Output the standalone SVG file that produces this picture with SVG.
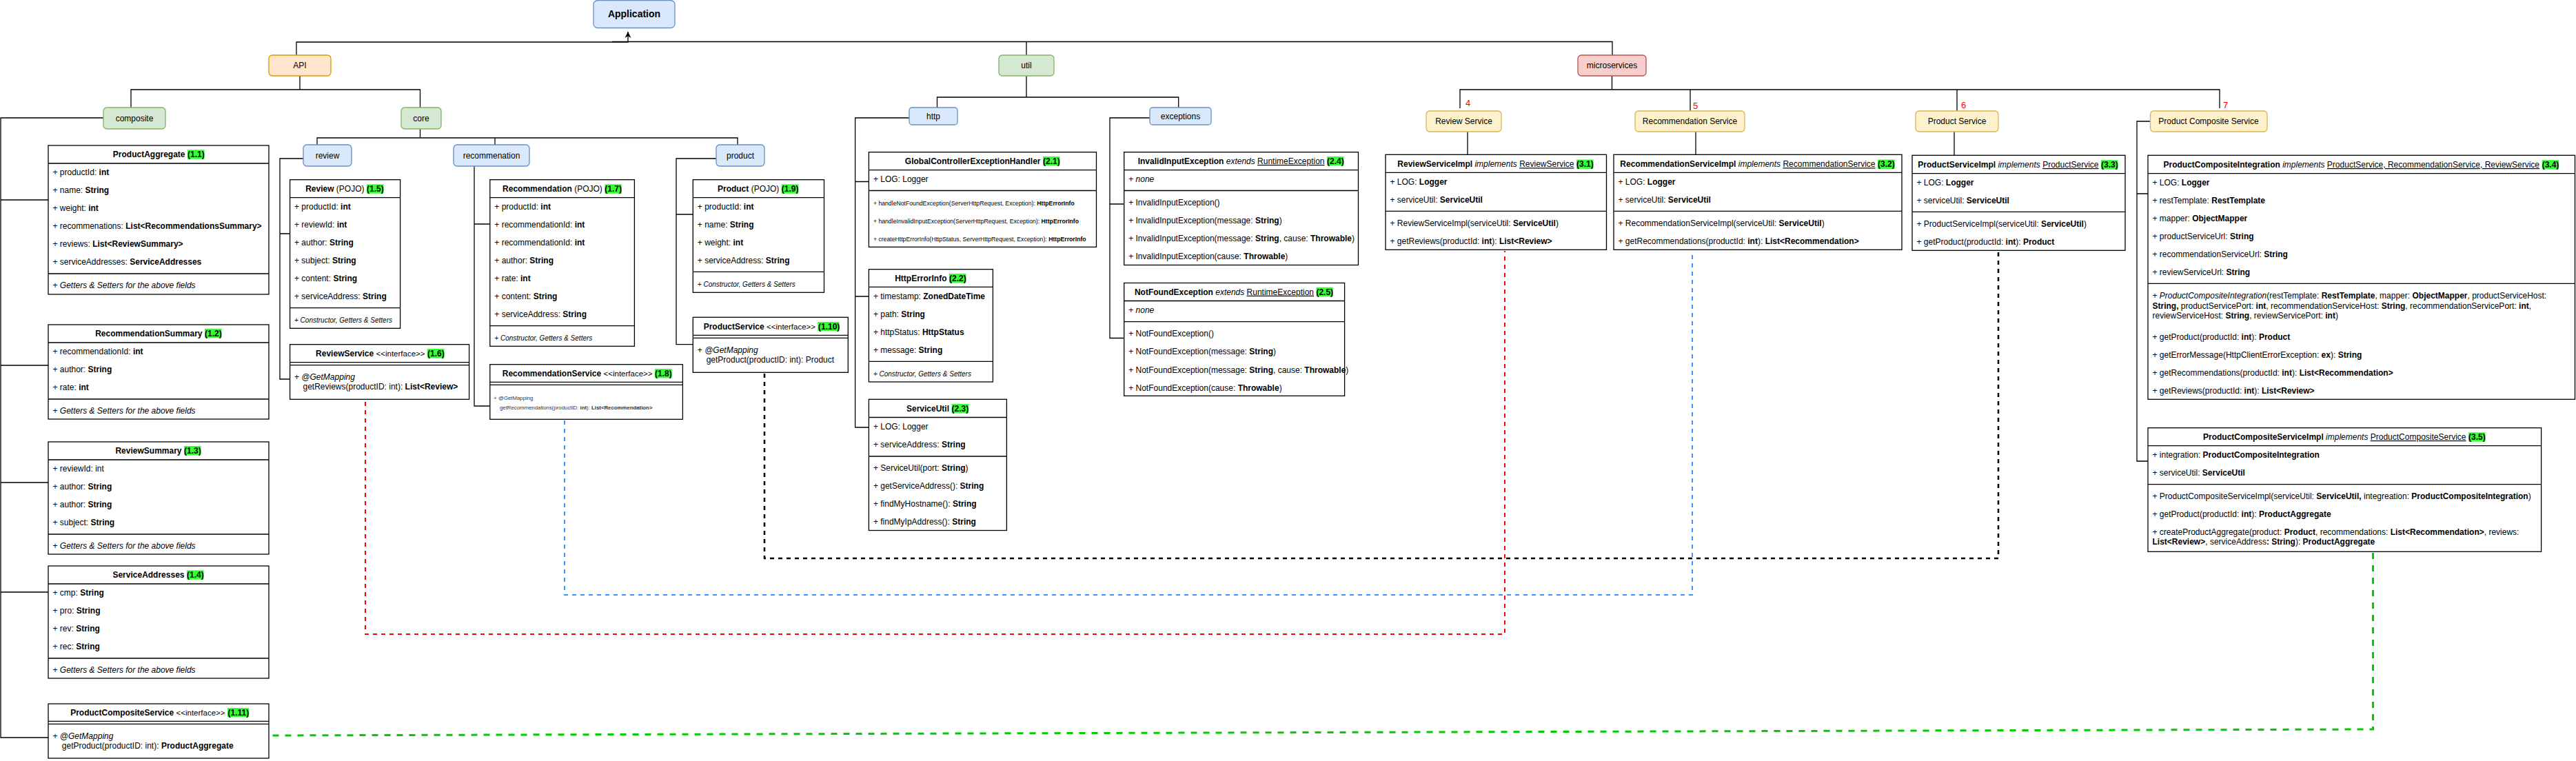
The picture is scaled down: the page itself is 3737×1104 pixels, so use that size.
<svg xmlns="http://www.w3.org/2000/svg" width="3737" height="1104" viewBox="0 0 3737 1104">
<defs>
<style>
text{font-family:"Liberation Sans",Arial,Helvetica,sans-serif;font-size:12px;fill:#000}
.box{fill:#fff;stroke:#000;stroke-width:1.3}
.ln{fill:none;stroke:#000;stroke-width:1.3}
.b{font-weight:bold}
.i{font-style:italic}
.u{text-decoration:underline}
.hl{fill:#33ff33}
.sm{font-size:10px;font-style:italic}
.xs{font-size:8.7px}
.xxs{font-size:7.8px;fill:#333}
.if{font-size:11.5px;font-weight:normal}
.blue{fill:#dae8fc;stroke:#6c8ebf;stroke-width:1.3}
.green{fill:#d5e8d4;stroke:#82b366;stroke-width:1.3}
.orange{fill:#ffe6cc;stroke:#d79b00;stroke-width:1.3}
.red{fill:#f8cecc;stroke:#b85450;stroke-width:1.3}
.yellow{fill:#fff2cc;stroke:#d6b656;stroke-width:1.3}
.c{fill:none;stroke:#000;stroke-width:1.3}
.num{fill:#ff0000;font-size:13px}
.ctr{text-anchor:middle}
.end{text-anchor:end}
</style>
<marker id="arr" viewBox="0 0 10 10" refX="10" refY="5" markerWidth="9" markerHeight="9" orient="auto" markerUnits="userSpaceOnUse">
<path d="M0,0 L10,5 L0,10 L3,5 Z" fill="#000"/>
</marker>
</defs>
<rect width="3737" height="1104" fill="#fff"/>

<g id="connectors">
<path class="c" d="M430,80 V61 H911 V46" marker-end="url(#arr)"/>
<path class="c" d="M888,60.5 H2339 V80"/>
<path class="c" d="M1489,60.5 V80"/>
<path class="c" d="M435,110 V130"/>
<path class="c" d="M190,156 V130 H609.5 V156"/>
<path class="c" d="M150,171 H1 V1070 H70 M1,290 H70 M1,530 H70 M1,700 H70 M1,859 H70"/>
<path class="c" d="M609.5,187 V200"/>
<path class="c" d="M460,210 V200 H1070 V210 M718,200 V210"/>
<path class="c" d="M440,230 H406 V550 H420.6 M406,339 H420.6"/>
<path class="c" d="M688,241 V589 H710.8 M688,325 H710.8"/>
<path class="c" d="M1039,230 H981 V499.7 H1005.3 M981,311 H1005.3"/>
<path class="c" d="M1489,110 V141 M1359.5,156 V141 H1709.7 V156"/>
<path class="c" d="M1319,171 H1240.6 V620 H1260.4 M1240.6,263.5 H1260.4 M1240.6,430 H1260.4"/>
<path class="c" d="M1668,171 H1610 V490.5 H1630.7 M1610,296 H1630.7"/>
<path class="c" d="M2338.5,110 V130 M2118,157 V130 H3220 V157 M2452,130 V161 M2839,130 V161"/>
<path class="c" d="M2129,191 V224.3 M2460,191 V224.3 M2835,191 V225.3"/>
<path class="c" d="M3119.5,176 H3100 V669 H3116 M3100,281 H3116"/>
<path d="M530,583 V920 H2183 V364" fill="none" stroke="#ff0000" stroke-width="2" stroke-dasharray="6 6"/>
<path d="M819,610 V863 H2455 V364" fill="none" stroke="#3399ff" stroke-width="2" stroke-dasharray="6 6"/>
<path d="M1109,542 V810 H2899 V365" fill="none" stroke="#000" stroke-width="2.5" stroke-dasharray="6 6"/>
<path d="M3442.5,802 V1058 L392,1067" fill="none" stroke="#00cc00" stroke-width="3" stroke-dasharray="9 9"/>
</g>

<g id="Application"><rect class="blue" x="861" y="0.5" width="118" height="40" rx="6"/><text class="b ctr" x="920" y="25" style="font-size:14px">Application</text></g>
<g id="API"><rect class="orange" x="390" y="80" width="90" height="30" rx="5"/><text class="ctr" x="435" y="99">API</text></g>
<g id="util"><rect class="green" x="1449" y="80" width="80" height="30" rx="5"/><text class="ctr" x="1489" y="99">util</text></g>
<g id="microservices"><rect class="red" x="2289" y="80" width="99" height="30" rx="5"/><text class="ctr" x="2338.5" y="99">microservices</text></g>
<g id="composite"><rect class="green" x="150" y="156" width="90" height="31" rx="5"/><text class="ctr" x="195" y="176">composite</text></g>
<g id="core"><rect class="green" x="582" y="156" width="58" height="31" rx="5"/><text class="ctr" x="611" y="176">core</text></g>
<g id="review"><rect class="blue" x="440" y="210" width="70" height="31" rx="5"/><text class="ctr" x="475" y="230">review</text></g>
<g id="recommenation"><rect class="blue" x="658" y="210" width="110" height="31" rx="5"/><text class="ctr" x="713" y="230">recommenation</text></g>
<g id="product"><rect class="blue" x="1039" y="210" width="70" height="31" rx="5"/><text class="ctr" x="1074" y="230">product</text></g>
<g id="http"><rect class="blue" x="1319" y="156" width="70" height="25" rx="4"/><text class="ctr" x="1354" y="172.5">http</text></g>
<g id="exceptions"><rect class="blue" x="1668" y="156" width="89" height="25" rx="4"/><text class="ctr" x="1712.5" y="172.5">exceptions</text></g>
<g id="ReviewServiceNode"><rect class="yellow" x="2069" y="161" width="109" height="30" rx="5"/><text class="ctr" x="2123.5" y="180">Review Service</text><text class="num" x="2126" y="154">4</text></g>
<g id="RecommendationServiceNode"><rect class="yellow" x="2372" y="161" width="159" height="30" rx="5"/><text class="ctr" x="2451.5" y="180">Recommendation Service</text><text class="num" x="2456" y="158">5</text></g>
<g id="ProductServiceNode"><rect class="yellow" x="2779" y="161" width="120" height="30" rx="5"/><text class="ctr" x="2839" y="180">Product Service</text><text class="num" x="2845" y="157">6</text></g>
<g id="ProductCompositeServiceNode"><rect class="yellow" x="3119.5" y="161" width="169.5" height="30" rx="5"/><text class="ctr" x="3204" y="180">Product Composite Service</text><text class="num" x="3225" y="157">7</text></g>

<g id="ProductAggregate">
<rect class="box" x="70" y="211" width="320" height="216"/>
<path class="ln" d="M70,237H390M70,397H390"/>
<text class="b end" x="268.5" y="228.3">ProductAggregate</text>
<rect class="hl" x="272" y="217.3" width="24.5" height="13.4"/><text class="b" x="272" y="228.3">(1.1)</text>
<text x="76.5" y="254.2">+ productId: <tspan class="b">int</tspan></text>
<text x="76.5" y="280.2">+ name: <tspan class="b">String</tspan></text>
<text x="76.5" y="306.2">+ weight: <tspan class="b">int</tspan></text>
<text x="76.5" y="332.2">+ recommenations: <tspan class="b">List&lt;RecommendationsSummary&gt;</tspan></text>
<text x="76.5" y="358.2">+ reviews: <tspan class="b">List&lt;ReviewSummary&gt;</tspan></text>
<text x="76.5" y="384.2">+ serviceAddresses: <tspan class="b">ServiceAddresses</tspan></text>
<text x="76.5" y="418">+ <tspan class="i">Getters &amp; Setters for the above fields</tspan></text>
</g>

<g id="RecommendationSummary">
<rect class="box" x="70" y="471" width="320" height="137"/>
<path class="ln" d="M70,497H390M70,579H390"/>
<text class="b end" x="293.5" y="487.8">RecommendationSummary</text>
<rect class="hl" x="297" y="476.8" width="24.5" height="13.4"/><text class="b" x="297" y="487.8">(1.2)</text>
<text x="76.5" y="514.2">+ recommendationId: <tspan class="b">int</tspan></text>
<text x="76.5" y="540.2">+ author: <tspan class="b">String</tspan></text>
<text x="76.5" y="566.2">+ rate: <tspan class="b">int</tspan></text>
<text x="76.5" y="600.2">+ <tspan class="i">Getters &amp; Setters for the above fields</tspan></text>
</g>

<g id="ReviewSummary">
<rect class="box" x="70" y="641" width="320" height="163"/>
<path class="ln" d="M70,667H390M70,775H390"/>
<text class="b end" x="263.5" y="658">ReviewSummary</text>
<rect class="hl" x="267" y="647" width="24.5" height="13.4"/><text class="b" x="267" y="658">(1.3)</text>
<text x="76.5" y="684.2">+ reviewId: int</text>
<text x="76.5" y="710.2">+ author: <tspan class="b">String</tspan></text>
<text x="76.5" y="736.2">+ author: <tspan class="b">String</tspan></text>
<text x="76.5" y="762.2">+ subject: <tspan class="b">String</tspan></text>
<text x="76.5" y="796.2">+ <tspan class="i">Getters &amp; Setters for the above fields</tspan></text>
</g>

<g id="ServiceAddresses">
<rect class="box" x="70" y="821" width="320" height="163"/>
<path class="ln" d="M70,847H390M70,955H390"/>
<text class="b end" x="267.5" y="838">ServiceAddresses</text>
<rect class="hl" x="271" y="827.3" width="24.5" height="13.4"/><text class="b" x="271" y="838">(1.4)</text>
<text x="76.5" y="864.2">+ cmp: <tspan class="b">String</tspan></text>
<text x="76.5" y="890.2">+ pro: <tspan class="b">String</tspan></text>
<text x="76.5" y="916.2">+ rev: <tspan class="b">String</tspan></text>
<text x="76.5" y="942.2">+ rec: <tspan class="b">String</tspan></text>
<text x="76.5" y="976.2">+ <tspan class="i">Getters &amp; Setters for the above fields</tspan></text>
</g>

<g id="ProductCompositeService">
<rect class="box" x="70" y="1021" width="320" height="79"/>
<path class="ln" d="M70,1046.3H390M70,1050.3H390"/>
<text class="end" x="326.5" y="1037.8"><tspan class="b">ProductCompositeService</tspan> <tspan class="if">&lt;&lt;interface&gt;&gt;</tspan></text>
<rect class="hl" x="330" y="1027" width="31" height="13.4"/><text class="b" x="330.5" y="1037.8">(1.11)</text>
<text x="76.5" y="1072">+ <tspan class="i">@GetMapping</tspan></text>
<text x="89.8" y="1086">getProduct(productID: int): <tspan class="b">ProductAggregate</tspan></text>
</g>

<g id="Review">
<rect class="box" x="420.6" y="260.7" width="160" height="215.6"/>
<path class="ln" d="M420.6,286.7H580.6M420.6,446.7H580.6"/>
<text class="end" x="528.5" y="278"><tspan class="b">Review</tspan> (POJO)</text>
<rect class="hl" x="532" y="267.3" width="24.5" height="13.4"/><text class="b" x="532" y="278">(1.5)</text>
<text x="427" y="304">+ productId: <tspan class="b">int</tspan></text>
<text x="427" y="330">+ reviewId: <tspan class="b">int</tspan></text>
<text x="427" y="356">+ author: <tspan class="b">String</tspan></text>
<text x="427" y="382">+ subject: <tspan class="b">String</tspan></text>
<text x="427" y="408">+ content: <tspan class="b">String</tspan></text>
<text x="427" y="434">+ serviceAddress: <tspan class="b">String</tspan></text>
<text class="sm" x="427" y="468.2">+ Constructor, Getters &amp; Setters</text>
</g>

<g id="ReviewService">
<rect class="box" x="420.6" y="499.7" width="260" height="79.6"/>
<path class="ln" d="M420.6,525.7H680.6M420.6,529.7H680.6"/>
<text class="end" x="616.5" y="517"><tspan class="b">ReviewService</tspan> <tspan class="if">&lt;&lt;interface&gt;&gt;</tspan></text>
<rect class="hl" x="620" y="506" width="24.5" height="13.4"/><text class="b" x="620" y="517">(1.6)</text>
<text x="427" y="551">+ <tspan class="i">@GetMapping</tspan></text>
<text x="439.5" y="565">getReviews(productID: int): <tspan class="b">List&lt;Review&gt;</tspan></text>
</g>

<g id="Recommendation">
<rect class="box" x="710.8" y="260.7" width="209.6" height="241.6"/>
<path class="ln" d="M710.8,286.7H920.4M710.8,472.7H920.4"/>
<text class="end" x="873.8" y="278"><tspan class="b">Recommendation</tspan> (POJO)</text>
<rect class="hl" x="877.3" y="267.3" width="24.5" height="13.4"/><text class="b" x="877.3" y="278">(1.7)</text>
<text x="717.3" y="304">+ productId: <tspan class="b">int</tspan></text>
<text x="717.3" y="330">+ recommendationId: <tspan class="b">int</tspan></text>
<text x="717.3" y="356">+ recommendationId: <tspan class="b">int</tspan></text>
<text x="717.3" y="382">+ author: <tspan class="b">String</tspan></text>
<text x="717.3" y="408">+ rate: <tspan class="b">int</tspan></text>
<text x="717.3" y="434">+ content: <tspan class="b">String</tspan></text>
<text x="717.3" y="460">+ serviceAddress: <tspan class="b">String</tspan></text>
<text class="sm" x="717.3" y="494.2">+ Constructor, Getters &amp; Setters</text>
</g>

<g id="RecommendationService">
<rect class="box" x="710.8" y="528.7" width="279.6" height="79.6"/>
<path class="ln" d="M710.8,554.3H990.4M710.8,558.3H990.4"/>
<text class="end" x="946.5" y="546"><tspan class="b">RecommendationService</tspan> <tspan class="if">&lt;&lt;interface&gt;&gt;</tspan></text>
<rect class="hl" x="950" y="535" width="24.5" height="13.4"/><text class="b" x="950" y="546">(1.8)</text>
<text class="xxs" x="716.3" y="580">+ @GetMapping</text>
<text class="xxs" x="725" y="593.8">getRecommendations(productID: <tspan class="b">int</tspan>): <tspan class="b">List&lt;Recommendation&gt;</tspan></text>
</g>

<g id="Product">
<rect class="box" x="1005.3" y="260.7" width="190.2" height="163.6"/>
<path class="ln" d="M1005.3,286.7H1195.5M1005.3,394.3H1195.5"/>
<text class="end" x="1130.3" y="278"><tspan class="b">Product</tspan> (POJO)</text>
<rect class="hl" x="1133.8" y="267.3" width="24.5" height="13.4"/><text class="b" x="1133.8" y="278">(1.9)</text>
<text x="1011.8" y="304">+ productId: <tspan class="b">int</tspan></text>
<text x="1011.8" y="330">+ name: <tspan class="b">String</tspan></text>
<text x="1011.8" y="356">+ weight: <tspan class="b">int</tspan></text>
<text x="1011.8" y="382">+ serviceAddress: <tspan class="b">String</tspan></text>
<text class="sm" x="1011.8" y="416.2">+ Constructor, Getters &amp; Setters</text>
</g>

<g id="ProductService">
<rect class="box" x="1005.3" y="460.3" width="225" height="80"/>
<path class="ln" d="M1005.3,486.3H1230.3M1005.3,490.3H1230.3"/>
<text class="end" x="1183" y="477.6"><tspan class="b">ProductService</tspan> <tspan class="if">&lt;&lt;interface&gt;&gt;</tspan></text>
<rect class="hl" x="1186.4" y="467" width="31.2" height="13.4"/><text class="b" x="1187" y="477.6">(1.10)</text>
<text x="1011.8" y="512">+ <tspan class="i">@GetMapping</tspan></text>
<text x="1024.7" y="526">getProduct(productID: int): Product</text>
</g>

<g id="GlobalControllerExceptionHandler">
<rect class="box" x="1260.4" y="220.7" width="330.1" height="137.7"/>
<path class="ln" d="M1260.4,246.7H1590.5M1260.4,276.5H1590.5"/>
<text class="b end" x="1509.5" y="238">GlobalControllerExceptionHandler</text>
<rect class="hl" x="1513" y="227" width="24.5" height="13.4"/><text class="b" x="1513" y="238">(2.1)</text>
<text x="1266.9" y="264">+ LOG: Logger</text>
<text class="xs" x="1266.9" y="298">+ handleNotFoundException(ServerHttpRequest, Exception): <tspan class="b">HttpErrorInfo</tspan></text>
<text class="xs" x="1266.9" y="324">+ handleInvalidInputException(ServerHttpRequest, Exception): <tspan class="b">HttpErrorInfo</tspan></text>
<text class="xs" x="1266.9" y="350">+ createHttpErrorInfo(HttpStatus, ServerHttpRequest, Exception): <tspan class="b">HttpErrorInfo</tspan></text>
</g>

<g id="HttpErrorInfo">
<rect class="box" x="1260.4" y="390.7" width="180" height="163.3"/>
<path class="ln" d="M1260.4,416.3H1440.4M1260.4,524.3H1440.4"/>
<text class="b end" x="1373.5" y="407.8">HttpErrorInfo</text>
<rect class="hl" x="1377" y="397" width="24.5" height="13.4"/><text class="b" x="1377" y="407.8">(2.2)</text>
<text x="1266.9" y="434">+ timestamp: <tspan class="b">ZonedDateTime</tspan></text>
<text x="1266.9" y="460">+ path: <tspan class="b">String</tspan></text>
<text x="1266.9" y="486">+ httpStatus: <tspan class="b">HttpStatus</tspan></text>
<text x="1266.9" y="512">+ message: <tspan class="b">String</tspan></text>
<text class="sm" x="1266.9" y="546.2">+ Constructor, Getters &amp; Setters</text>
</g>

<g id="ServiceUtil">
<rect class="box" x="1260.4" y="579.3" width="200" height="190.2"/>
<path class="ln" d="M1260.4,605.5H1460.4M1260.4,662H1460.4"/>
<text class="b end" x="1377" y="596.7">ServiceUtil</text>
<rect class="hl" x="1380.6" y="586" width="24.5" height="13.4"/><text class="b" x="1380.6" y="596.7">(2.3)</text>
<text x="1266.9" y="623">+ LOG: Logger</text>
<text x="1266.9" y="649">+ serviceAddress: <tspan class="b">String</tspan></text>
<text x="1266.9" y="683">+ ServiceUtil(port: <tspan class="b">String</tspan>)</text>
<text x="1266.9" y="709">+ getServiceAddress(): <tspan class="b">String</tspan></text>
<text x="1266.9" y="735">+ findMyHostname(): <tspan class="b">String</tspan></text>
<text x="1266.9" y="761">+ findMyIpAddress(): <tspan class="b">String</tspan></text>
</g>

<g id="InvalidInputException">
<rect class="box" x="1630.7" y="220.7" width="339.8" height="163.8"/>
<path class="ln" d="M1630.7,246.7H1970.5M1630.7,276.5H1970.5"/>
<text class="end" x="1921.5" y="238"><tspan class="b">InvalidInputException</tspan> <tspan class="i">extends</tspan> <tspan class="u">RuntimeException</tspan></text>
<rect class="hl" x="1925" y="227" width="24.5" height="13.4"/><text class="b" x="1925" y="238">(2.4)</text>
<text x="1637.2" y="264">+ <tspan class="i">none</tspan></text>
<text x="1637.2" y="298">+ InvalidInputException()</text>
<text x="1637.2" y="324">+ InvalidInputException(message: <tspan class="b">String</tspan>)</text>
<text x="1637.2" y="350.4">+ InvalidInputException(message: <tspan class="b">String</tspan>, cause: <tspan class="b">Throwable</tspan>)</text>
<text x="1637.2" y="376.4">+ InvalidInputException(cause: <tspan class="b">Throwable</tspan>)</text>
</g>

<g id="NotFoundException">
<rect class="box" x="1630.7" y="410.5" width="319.9" height="163.8"/>
<path class="ln" d="M1630.7,436.5H1950.6M1630.7,466.7H1950.6"/>
<text class="end" x="1906" y="427.8"><tspan class="b">NotFoundException</tspan> <tspan class="i">extends</tspan> <tspan class="u">RuntimeException</tspan></text>
<rect class="hl" x="1909.4" y="416.8" width="24.5" height="13.4"/><text class="b" x="1909.4" y="427.8">(2.5)</text>
<text x="1637.2" y="454.2">+ <tspan class="i">none</tspan></text>
<text x="1637.2" y="488.3">+ NotFoundException()</text>
<text x="1637.2" y="514.3">+ NotFoundException(message: <tspan class="b">String</tspan>)</text>
<text x="1637.2" y="540.7">+ NotFoundException(message: <tspan class="b">String</tspan>, cause: <tspan class="b">Throwable</tspan>)</text>
<text x="1637.2" y="566.7">+ NotFoundException(cause: <tspan class="b">Throwable</tspan>)</text>
</g>

<g id="ReviewServiceImpl">
<rect class="box" x="2010" y="224.3" width="320.5" height="138"/>
<path class="ln" d="M2010,250.3H2330.5M2010,306.3H2330.5"/>
<text class="end" x="2283.5" y="242.3"><tspan class="b">ReviewServiceImpl</tspan> <tspan class="i">implements</tspan> <tspan class="u">ReviewService</tspan></text>
<rect class="hl" x="2287" y="231.5" width="24.5" height="13.4"/><text class="b" x="2287" y="242.3">(3.1)</text>
<text x="2016.5" y="268.2">+ LOG: <tspan class="b">Logger</tspan></text>
<text x="2016.5" y="294.2">+ serviceUtil: <tspan class="b">ServiceUtil</tspan></text>
<text x="2016.5" y="327.5">+ ReviewServiceImpl(serviceUtil: <tspan class="b">ServiceUtil</tspan>)</text>
<text x="2016.5" y="354.2">+ getReviews(productId: <tspan class="b">int</tspan>): <tspan class="b">List&lt;Review&gt;</tspan></text>
</g>

<g id="RecommendationServiceImpl">
<rect class="box" x="2341" y="224.3" width="418" height="138"/>
<path class="ln" d="M2341,250.3H2759M2341,306.3H2759"/>
<text class="end" x="2720.5" y="242.3"><tspan class="b">RecommendationServiceImpl</tspan> <tspan class="i">implements</tspan> <tspan class="u">RecommendationService</tspan></text>
<rect class="hl" x="2724" y="231.5" width="24.5" height="13.4"/><text class="b" x="2724" y="242.3">(3.2)</text>
<text x="2347.5" y="268.2">+ LOG: <tspan class="b">Logger</tspan></text>
<text x="2347.5" y="294.2">+ serviceUtil: <tspan class="b">ServiceUtil</tspan></text>
<text x="2347.5" y="327.5">+ RecommendationServiceImpl(serviceUtil: <tspan class="b">ServiceUtil</tspan>)</text>
<text x="2347.5" y="354.2">+ getRecommendations(productId: <tspan class="b">int</tspan>): <tspan class="b">List&lt;Recommendation&gt;</tspan></text>
</g>

<g id="ProductServiceImpl">
<rect class="box" x="2774" y="225.3" width="309" height="138"/>
<path class="ln" d="M2774,251.7H3083M2774,307.3H3083"/>
<text class="end" x="3044.5" y="243"><tspan class="b">ProductServiceImpl</tspan> <tspan class="i">implements</tspan> <tspan class="u">ProductService</tspan></text>
<rect class="hl" x="3048" y="232.2" width="24.5" height="13.4"/><text class="b" x="3048" y="243">(3.3)</text>
<text x="2780.5" y="269.2">+ LOG: <tspan class="b">Logger</tspan></text>
<text x="2780.5" y="295.2">+ serviceUtil: <tspan class="b">ServiceUtil</tspan></text>
<text x="2780.5" y="329.2">+ ProductServiceImpl(serviceUtil: <tspan class="b">ServiceUtil</tspan>)</text>
<text x="2780.5" y="355.2">+ getProduct(productId: <tspan class="b">int</tspan>): <tspan class="b">Product</tspan></text>
</g>

<g id="ProductCompositeIntegration">
<rect class="box" x="3116" y="225.3" width="619.5" height="354"/>
<path class="ln" d="M3116,251.7H3735.5M3116,411.3H3735.5"/>
<text class="end" x="3684" y="243"><tspan class="b">ProductCompositeIntegration</tspan> <tspan class="i">implements</tspan> <tspan class="u">ProductService, RecommendationService, ReviewService</tspan></text>
<rect class="hl" x="3687.7" y="232.2" width="24.5" height="13.4"/><text class="b" x="3687.7" y="243">(3.4)</text>
<text x="3122.5" y="269.2">+ LOG: <tspan class="b">Logger</tspan></text>
<text x="3122.5" y="295.2">+ restTemplate: <tspan class="b">RestTemplate</tspan></text>
<text x="3122.5" y="321.2">+ mapper: <tspan class="b">ObjectMapper</tspan></text>
<text x="3122.5" y="347.2">+ productServiceUrl: <tspan class="b">String</tspan></text>
<text x="3122.5" y="373.2">+ recommendationServiceUrl: <tspan class="b">String</tspan></text>
<text x="3122.5" y="399.2">+ reviewServiceUrl: <tspan class="b">String</tspan></text>
<text x="3122.5" y="433">+ <tspan class="i">ProductCompositeIntegration</tspan>(restTemplate: <tspan class="b">RestTemplate</tspan>, mapper: <tspan class="b">ObjectMapper</tspan>, productServiceHost:</text>
<text x="3122.5" y="447.5"><tspan class="b">String,</tspan> productServicePort: <tspan class="b">int</tspan>, recommendationServiceHost: <tspan class="b">String</tspan>, recommendationServicePort: <tspan class="b">int</tspan>,</text>
<text x="3122.5" y="462">reviewServiceHost: <tspan class="b">String</tspan>, reviewServicePort: <tspan class="b">int</tspan>)</text>
<text x="3122.5" y="493.2">+ getProduct(productId: <tspan class="b">int</tspan>): <tspan class="b">Product</tspan></text>
<text x="3122.5" y="519.2">+ getErrorMessage(HttpClientErrorException: <tspan class="b">ex</tspan>): <tspan class="b">String</tspan></text>
<text x="3122.5" y="544.5">+ getRecommendations(productId: <tspan class="b">int</tspan>): <tspan class="b">List&lt;Recommendation&gt;</tspan></text>
<text x="3122.5" y="571">+ getReviews(productId: <tspan class="b">int</tspan>): <tspan class="b">List&lt;Review&gt;</tspan></text>
</g>

<g id="ProductCompositeServiceImpl">
<rect class="box" x="3116" y="620.7" width="570.6" height="179.6"/>
<path class="ln" d="M3116,646.7H3686.6M3116,702.7H3686.6"/>
<text class="end" x="3577.5" y="638"><tspan class="b">ProductCompositeServiceImpl</tspan> <tspan class="i">implements</tspan> <tspan class="u">ProductCompositeService</tspan></text>
<rect class="hl" x="3581" y="627.3" width="24.5" height="13.4"/><text class="b" x="3581" y="638">(3.5)</text>
<text x="3122.5" y="664">+ integration: <tspan class="b">ProductCompositeIntegration</tspan></text>
<text x="3122.5" y="690">+ serviceUtil: <tspan class="b">ServiceUtil</tspan></text>
<text x="3122.5" y="724">+ ProductCompositeServiceImpl(serviceUtil: <tspan class="b">ServiceUtil,</tspan> integreation: <tspan class="b">ProductCompositeIntegration</tspan>)</text>
<text x="3122.5" y="750">+ getProduct(productId: <tspan class="b">int</tspan>): <tspan class="b">ProductAggregate</tspan></text>
<text x="3122.5" y="776">+ createProductAggregate(product: <tspan class="b">Product</tspan>, recommendations: <tspan class="b">List&lt;Recommendation&gt;</tspan>, reviews:</text>
<text x="3122.5" y="790"><tspan class="b">List&lt;Review&gt;</tspan>, serviceAddress<tspan class="b">: String</tspan>): <tspan class="b">ProductAggregate</tspan></text>
</g>
</svg>
